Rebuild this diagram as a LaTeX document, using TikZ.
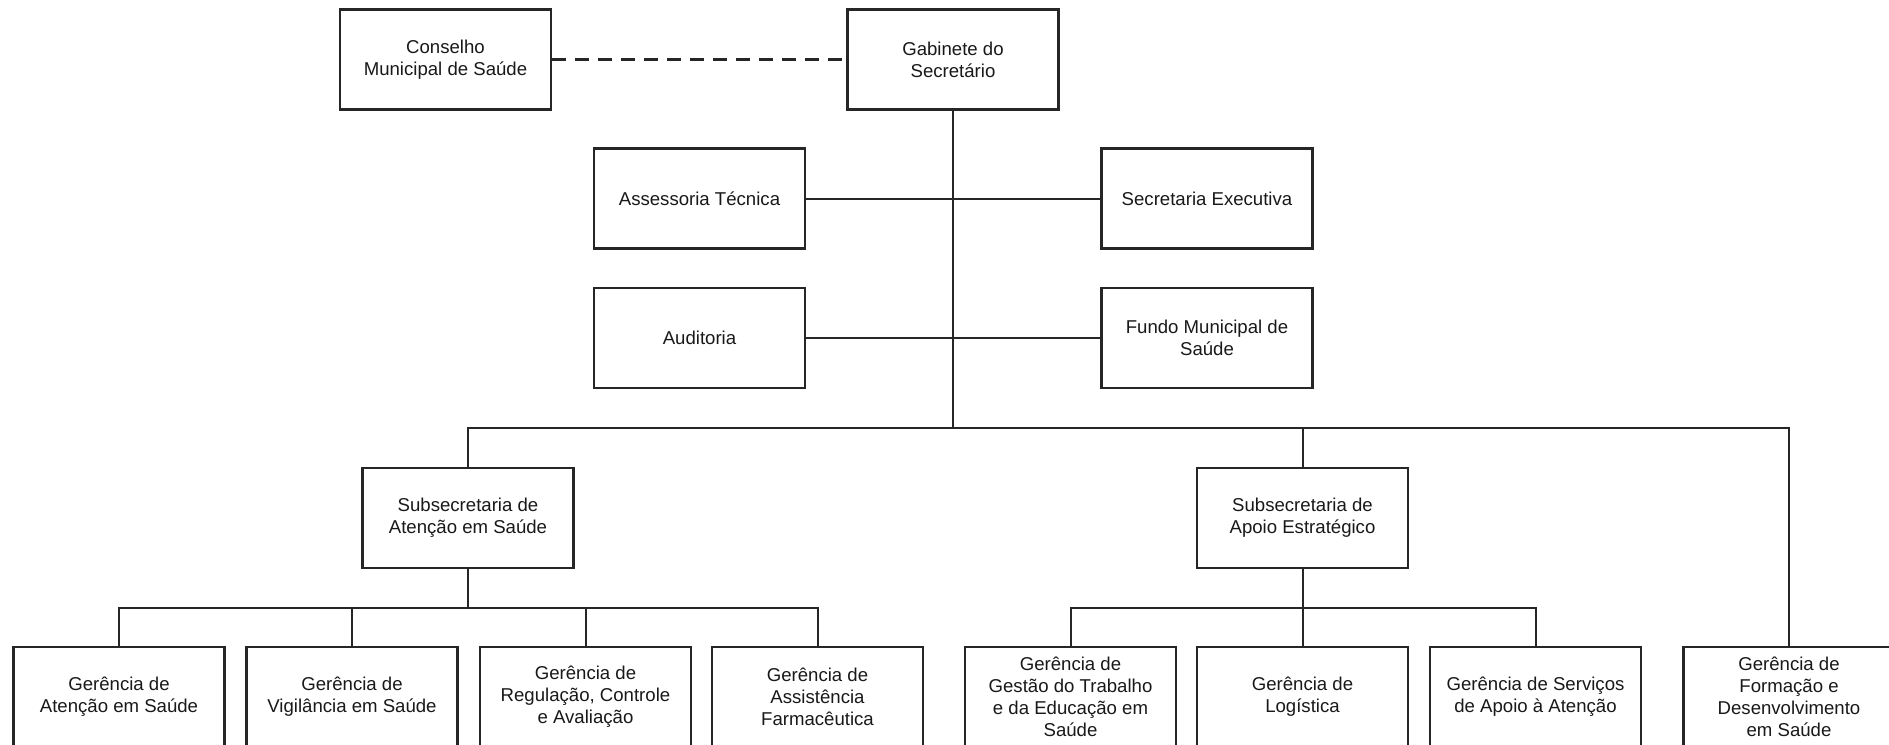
\documentclass[tikz,border=0pt]{standalone}
\usepackage{fontspec}
\setmainfont{Liberation Sans}
\begin{document}
\begin{tikzpicture}[x=0.5pt,y=-0.5pt,
  box/.style={draw=black!85, line width=1.1pt, minimum width=105.5pt, minimum height=50pt,
    inner sep=1pt, align=center, font=\fontsize{9.3}{11}\selectfont, text=black!90},
  conn/.style={draw=black!85, line width=1pt},
  dconn/.style={draw=black!85, line width=1.2pt, dash pattern=on 7pt off 4.5pt}]
\useasboundingbox (0,0) rectangle (1889,744);
\fill[white] (0,0) rectangle (1889,744);
\node[box] (cons) at (445.5,59.5) {Conselho\\Municipal de Saúde};
\node[box] (gab) at (953,59.5) {Gabinete do\\Secretário};
\node[box] (ass) at (699.5,198.5) {Assessoria Técnica};
\node[box] (sec) at (1207,198.5) {Secretaria Executiva};
\node[box] (aud) at (699.5,338) {Auditoria};
\node[box] (fun) at (1207,338) {Fundo Municipal de\\Saúde};
\node[box] (sa) at (468,518) {Subsecretaria de\\Atenção em Saúde};
\node[box] (sb) at (1302.5,518) {Subsecretaria de\\Apoio Estratégico};
\node[box] (g1) at (119,697) {Gerência de\\Atenção em Saúde};
\node[box] (g2) at (352,697) {Gerência de\\Vigilância em Saúde};
\node[box] (g3) at (585.5,697) {Gerência de\\Regulação, Controle\\e Avaliação};
\node[box] (g4) at (817.5,697) {Gerência de\\Assistência\\Farmacêutica};
\node[box] (g5) at (1070.5,697) {Gerência de\\Gestão do Trabalho\\e da Educação em\\Saúde};
\node[box] (g6) at (1302.5,697) {Gerência de\\Logística};
\node[box] (g7) at (1535.5,697) {Gerência de Serviços\\de Apoio à Atenção};
\node[box] (g8) at (1789,697) {Gerência de\\Formação e\\Desenvolvimento\\em Saúde};
\coordinate (bus) at (0,428);
\coordinate (sbus) at (0,608);
\draw[dconn] (cons.east) -- (gab.west);
\draw[conn] (gab.south) -- (gab.south |- bus);
\draw[conn] (ass.east) -- (sec.west);
\draw[conn] (aud.east) -- (fun.west);
\draw[conn] (sa.north) -- (sa.north |- bus) -- (g8.north |- bus) -- (g8.north);
\draw[conn] (sb.north) -- (sb.north |- bus);
\draw[conn] (sa.south) -- (sa.south |- sbus);
\draw[conn] (g1.north) -- (g1.north |- sbus) -- (g4.north |- sbus) -- (g4.north);
\draw[conn] (g2.north) -- (g2.north |- sbus);
\draw[conn] (g3.north) -- (g3.north |- sbus);
\draw[conn] (sb.south) -- (g6.north);
\draw[conn] (g5.north) -- (g5.north |- sbus) -- (g7.north |- sbus) -- (g7.north);
\end{tikzpicture}
\end{document}
